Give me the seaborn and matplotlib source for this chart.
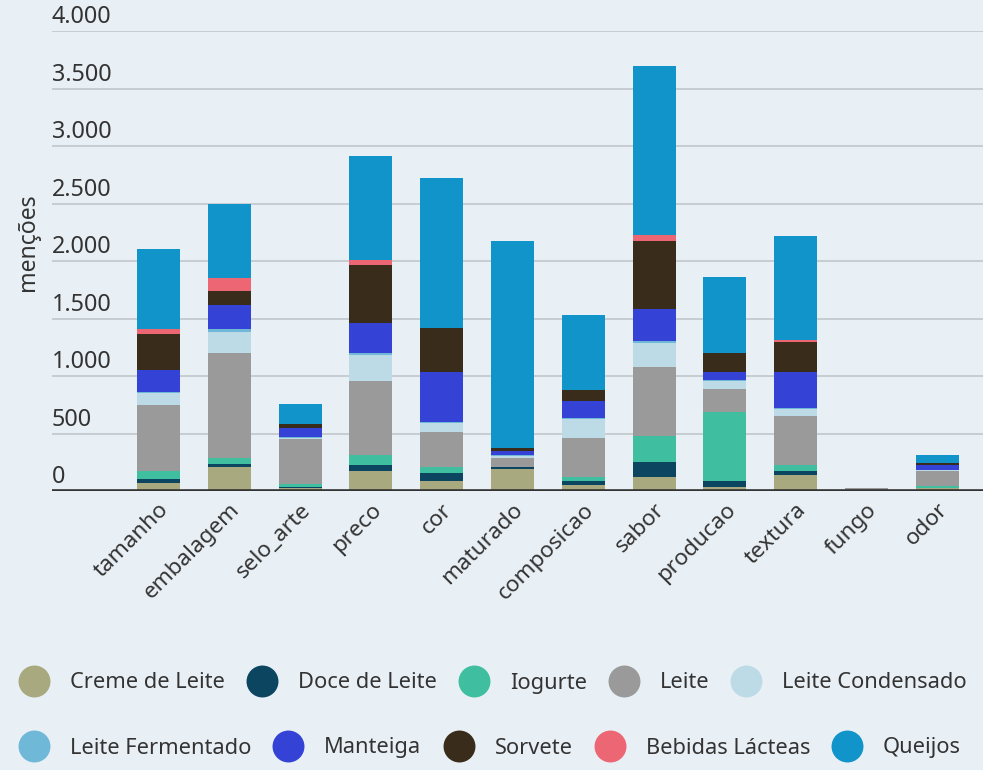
import matplotlib
matplotlib.use("Agg")
import matplotlib.pyplot as plt
import seaborn as sns
import numpy as np
from matplotlib.lines import Line2D

categories = ["tamanho", "embalagem", "selo_arte", "preco", "cor", "maturado",
              "composicao", "sabor", "producao", "textura", "fungo", "odor"]

creme_de_leite    = [72, 209, 30, 174, 87, 191, 52, 125, 38, 139, 0, 26]
doce_de_leite     = [35, 28, 5, 49, 72, 15, 38, 130, 49, 38, 0, 0]
iogurte           = [70, 53, 25, 87, 52, 0, 35, 223, 603, 49, 0, 20]
leite             = [574, 907, 390, 649, 302, 81, 336, 603, 200, 426, 25, 128]
leite_condensado  = [100, 183, 15, 224, 80, 20, 161, 209, 65, 60, 0, 5]
leite_fermentado  = [10, 29, 8, 17, 7, 6, 10, 14, 10, 7, 0, 0]
manteiga          = [191, 205, 78, 261, 435, 37, 149, 276, 70, 320, 0, 48]
sorvete           = [316, 128, 32, 504, 382, 24, 99, 594, 162, 256, 0, 15]
bebidas_lacteas   = [41, 107, 0, 41, 0, 0, 0, 52, 0, 20, 0, 0]
queijos           = [695, 647, 171, 907, 1305, 1800, 652, 1472, 667, 904, 0, 72]

series_names = ["Creme de Leite", "Doce de Leite", "Iogurte", "Leite", "Leite Condensado",
                "Leite Fermentado", "Manteiga", "Sorvete", "Bebidas Lácteas", "Queijos"]
series_values = [creme_de_leite, doce_de_leite, iogurte, leite, leite_condensado,
                 leite_fermentado, manteiga, sorvete, bebidas_lacteas, queijos]
colors = ["#a8a97f", "#0b4560", "#3fbf9f", "#9a9a9a", "#bddbe6",
          "#6fb8d8", "#3443d6", "#3a2c1b", "#ec6674", "#1094ca"]

y_ticks = [0, 500, 1000, 1500, 2000, 2500, 3000, 3500, 4000]

BG = "#e9f0f5"
TXT = "#333333"
FONT = "Noto Sans"

sns.set_theme(style="white")
plt.rcParams["font.family"] = [FONT, "DejaVu Sans"]

fig = plt.figure(figsize=(9.83, 7.70), dpi=100, facecolor=BG)
W, H = 983, 770
ax = fig.add_axes([52 / W, (H - 491) / H, (W - 52) / W, 460 / H])
ax.set_facecolor(BG)

bottom = np.zeros(len(categories))
for name, vals, col in zip(series_names, series_values, colors):
    sns.barplot(x=categories, y=vals, bottom=bottom.copy(), color=col, width=0.607,
                ax=ax, saturation=1, linewidth=0, order=categories)
    bottom += np.array(vals, dtype=float)

ax.set_xlim(-1.504, 11.645)
ax.set_ylim(0, 4000)
for s in ax.spines.values():
    s.set_visible(False)

for v in y_ticks[1:]:
    ax.axhline(v, color="#c8cdd1", lw=1.4, zorder=0)
ax.axhline(0, color="#333333", lw=2.6, zorder=5)

ax.set_yticks(y_ticks)
ax.set_yticklabels([])
ax.tick_params(axis="y", length=0)
for v in y_ticks:
    lab = f"{v:,}".replace(",", ".")
    ax.annotate(lab, xy=(0, v), xycoords=("axes fraction", "data"),
                xytext=(0, 5.5), textcoords="offset points",
                ha="left", va="baseline", fontsize=16.8, color=TXT)

ax.set_xlabel("")
ax.set_ylabel("")
ax.tick_params(axis="x", length=0, pad=6)
ax.set_xticks(range(len(categories)))
ax.set_xticklabels(categories, rotation=45, ha="right", va="top",
                   rotation_mode="anchor", fontsize=16.2, color=TXT)

fig.text(28 / W, 1 - 242 / H, "menções", rotation=90, ha="center", va="center",
         fontsize=16.6, color=TXT)

handles = [Line2D([], [], marker="o", ls="", markersize=23, markerfacecolor=c,
                  markeredgewidth=0) for c in colors]

fs = 15.7
px = fs * 100 / 72
for row, yc in ((0, 683), (1, 748)):
    hs = handles[row * 5:(row + 1) * 5]
    ls = series_names[row * 5:(row + 1) * 5]
    leg = fig.legend(hs, ls, ncol=5, loc="center left",
                     bbox_to_anchor=(18 / W, 1 - yc / H), frameon=False,
                     fontsize=fs, handlelength=32 / px, handletextpad=20 / px,
                     columnspacing=21 / px, borderpad=0, borderaxespad=0,
                     labelcolor=TXT)

fig.savefig("out.png", dpi=100, facecolor=BG)
